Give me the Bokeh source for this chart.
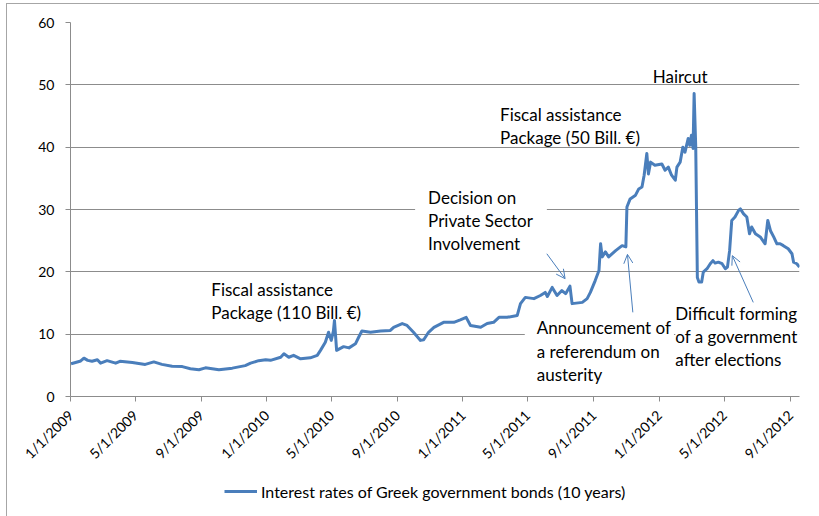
import math
import pandas as pd
from bokeh.plotting import figure
from bokeh.layouts import column
from bokeh.models import (Range1d, FixedTicker, Label, Arrow, OpenHead, Legend,
                          LegendItem, ColumnDataSource)
from bokeh.embed import file_html
from bokeh.resources import INLINE

# ---------------- data ----------------
dates = [
    "2009-01-02", "2009-01-12", "2009-01-20", "2009-01-26", "2009-02-02", "2009-02-10",
    "2009-02-20", "2009-02-26", "2009-03-10", "2009-03-26", "2009-04-03", "2009-04-26",
    "2009-05-20", "2009-06-05", "2009-06-20", "2009-07-09", "2009-07-28", "2009-08-12",
    "2009-08-28", "2009-09-09", "2009-10-04", "2009-10-29", "2009-11-22", "2009-12-02",
    "2009-12-17", "2009-12-30",
    "2010-01-08", "2010-01-27", "2010-02-02", "2010-02-11", "2010-02-20", "2010-03-05",
    "2010-03-23", "2010-04-05", "2010-04-11", "2010-04-20", "2010-04-26", "2010-05-01",
    "2010-05-05", "2010-05-07", "2010-05-11", "2010-05-24", "2010-06-03", "2010-06-15",
    "2010-06-21", "2010-06-27", "2010-07-13", "2010-08-01", "2010-08-19", "2010-08-25",
    "2010-09-10", "2010-09-19", "2010-10-01", "2010-10-14", "2010-10-20", "2010-10-29",
    "2010-11-08", "2010-11-26", "2010-12-15", "2010-12-27",
    "2011-01-07", "2011-01-15", "2011-02-03", "2011-02-15", "2011-02-27", "2011-03-09",
    "2011-03-24", "2011-04-12", "2011-04-18", "2011-04-27", "2011-05-13", "2011-05-25",
    "2011-06-03", "2011-06-07", "2011-06-16", "2011-06-25", "2011-07-04", "2011-07-11",
    "2011-07-19", "2011-07-23", "2011-08-11", "2011-08-20", "2011-08-26", "2011-09-04",
    "2011-09-11", "2011-09-14", "2011-09-17", "2011-09-23", "2011-09-29", "2011-10-12",
    "2011-10-24", "2011-10-31", "2011-11-02", "2011-11-08", "2011-11-18", "2011-11-24",
    "2011-11-30", "2011-12-04", "2011-12-09", "2011-12-12", "2011-12-16", "2011-12-24",
    "2012-01-06", "2012-01-12", "2012-01-18", "2012-01-24", "2012-01-31", "2012-02-03",
    "2012-02-09", "2012-02-14", "2012-02-18", "2012-02-24", "2012-02-27", "2012-03-01",
    "2012-03-04", "2012-03-06", "2012-03-09", "2012-03-12", "2012-03-15", "2012-03-20",
    "2012-03-23", "2012-03-30", "2012-04-05", "2012-04-10", "2012-04-14", "2012-04-20",
    "2012-04-27", "2012-05-03", "2012-05-07", "2012-05-11", "2012-05-15", "2012-05-21",
    "2012-05-28", "2012-05-31", "2012-06-06", "2012-06-12", "2012-06-17", "2012-06-21",
    "2012-06-28", "2012-07-07", "2012-07-16", "2012-07-21", "2012-07-26", "2012-08-01",
    "2012-08-07", "2012-08-13", "2012-08-19", "2012-08-28", "2012-09-04", "2012-09-07",
    "2012-09-13", "2012-09-18",
]
rates = [
    5.25, 5.5, 5.7, 6.15, 5.8, 5.65,
    5.9, 5.35, 5.75, 5.35, 5.65, 5.45,
    5.15, 5.55, 5.15, 4.85, 4.8, 4.45,
    4.3, 4.6, 4.3, 4.55, 4.95, 5.35,
    5.75, 5.9,
    5.8, 6.3, 6.85, 6.3, 6.6, 6.05,
    6.2, 6.6, 7.4, 8.7, 10.3, 9.0,
    10.5, 12.2, 7.4, 8.0, 7.8, 8.45,
    9.5, 10.5, 10.3, 10.5, 10.6, 11.1,
    11.7, 11.4, 10.3, 9.0, 9.1, 10.3,
    11.1, 11.9, 11.9, 12.3,
    12.7, 11.4, 11.1, 11.7, 11.9, 12.7,
    12.7, 13.0, 14.9, 15.9, 15.7, 16.2,
    16.7, 16.05, 17.5, 16.2, 17.0, 16.5,
    17.7, 14.9, 15.1, 15.7, 16.7, 18.6,
    20.2, 24.5, 22.4, 23.2, 22.4, 23.4,
    24.2, 24.0, 30.4, 31.7, 32.3, 33.3,
    33.6, 35.5, 39.0, 35.7, 37.6, 37.1,
    37.3, 36.3, 36.8, 35.5, 34.7, 36.8,
    37.6, 40.0, 39.2, 41.4, 40.3, 41.9,
    39.8, 48.6, 40.0, 19.1, 18.35, 18.35,
    19.95, 20.5, 21.3, 21.8, 21.4, 21.55,
    21.3, 20.5, 20.75, 23.4, 28.25, 28.8,
    29.9, 30.1, 29.3, 28.8, 26.1, 27.2,
    26.1, 25.6, 24.5, 28.25, 26.6, 25.6,
    24.5, 24.5, 24.2, 23.7, 22.9, 21.55,
    21.3, 20.75,
]
series_name = "Interest rates of Greek government bonds (10 years)"

tick_dates = ["2009-01-01", "2009-05-01", "2009-09-01", "2010-01-01", "2010-05-01",
              "2010-09-01", "2011-01-01", "2011-05-01", "2011-09-01", "2012-01-01",
              "2012-05-01", "2012-09-01"]
tick_labels = ["1/1/2009", "5/1/2009", "9/1/2009", "1/1/2010", "5/1/2010", "9/1/2010",
               "1/1/2011", "5/1/2011", "9/1/2011", "1/1/2012", "5/1/2012", "9/1/2012"]
y_ticks = [0, 10, 20, 30, 40, 50, 60]

# annotations: text, anchor date, anchor value (top-left of text box)
note_texts = ["Haircut",
              "Fiscal assistance\nPackage (50 Bill. \u20ac)",
              "Decision on\nPrivate Sector\nInvolvement",
              "Fiscal assistance\nPackage (110 Bill. \u20ac)",
              "Announcement of\na referendum on\nausterity",
              "Difficult forming\nof a government\nafter elections"]
note_dates = ["2012-02-09", "2011-03-11", "2010-10-04", "2009-09-20", "2011-04-26", "2012-01-31"]
note_values = [53.0, 46.9, 33.9, 18.8, 13.0, 15.4]

# arrows: start (date, value) -> end (date, value)
arrow_start_dates = ["2011-06-06", "2011-11-13", "2012-06-24"]
arrow_start_values = [22.9, 13.5, 15.1]
arrow_end_dates = ["2011-07-10", "2011-11-03", "2012-05-16"]
arrow_end_values = [18.9, 22.8, 22.6]

x_start, x_end = "2009-01-01", "2012-09-18"

# ---------------- figure ----------------
def ms(s):
    return pd.Timestamp(s).value / 1e6

FONT = "Lato"
BLUE = "#4A7EBB"
GRID = "#8c8c8c"

p = figure(width=812, height=472, x_axis_type="datetime",
           output_backend="svg", toolbar_location=None,
           x_range=Range1d(ms(x_start), ms(x_end)), y_range=Range1d(0, 60),
           min_border_left=63, min_border_right=20, min_border_top=18,
           min_border_bottom=80)
p.outline_line_color = None
p.background_fill_color = "white"
p.border_fill_color = "white"

src = ColumnDataSource(dict(x=pd.to_datetime(dates), y=rates))
r = p.line("x", "y", source=src, line_color=BLUE, line_width=3, line_join="round")

# axes
p.xgrid.grid_line_color = None
p.ygrid.grid_line_color = GRID
p.ygrid.grid_line_width = 1
p.yaxis.ticker = FixedTicker(ticks=y_ticks)
p.xaxis.ticker = FixedTicker(ticks=[ms(t) for t in tick_dates])
p.xaxis.major_label_overrides = {ms(t): lab for t, lab in zip(tick_dates, tick_labels)}
p.xaxis.major_label_orientation = math.pi / 4
for ax in (p.xaxis, p.yaxis):
    ax.axis_line_color = GRID
    ax.major_tick_line_color = GRID
    ax.minor_tick_line_color = None
    ax.major_tick_in = 0
    ax.major_tick_out = 5
    ax.major_label_text_font = FONT
    ax.major_label_text_font_size = "14px"
    ax.major_label_text_color = "black"
p.yaxis.major_label_standoff = 11
p.xaxis.major_label_standoff = 11

# annotations
pads = [None, None,
        dict(left=13, right=14, top=2, bottom=2),
        None,
        dict(left=12, right=3, top=2, bottom=2),
        dict(left=0, right=20, top=2, bottom=2)]
for t, d, v, pad in zip(note_texts, note_dates, note_values, pads):
    kw = {}
    if pad is not None:
        kw = dict(background_fill_color="white", padding=pad)
    align = "center" if t == "Haircut" else "left"
    p.add_layout(Label(x=ms(d), y=v, text=t, text_font=FONT, text_font_size="17px",
                       text_color="black", text_align=align, text_baseline="top",
                       text_line_height=1.1, **kw))

for sd, sv, ed, ev in zip(arrow_start_dates, arrow_start_values, arrow_end_dates, arrow_end_values):
    p.add_layout(Arrow(x_start=ms(sd), y_start=sv, x_end=ms(ed), y_end=ev,
                       line_color=BLUE, line_width=1,
                       end=OpenHead(size=9, line_color=BLUE, line_width=1)))

# legend strip (same series style, shown below the axis); its line lies outside the view
q = figure(width=812, height=40, output_backend="svg", toolbar_location=None,
           x_axis_location=None, y_axis_location=None,
           x_range=Range1d(0, 1), y_range=Range1d(0, 1),
           min_border_left=0, min_border_right=0, min_border_top=0, min_border_bottom=0)
q.outline_line_color = None
q.grid.grid_line_color = None
q.border_fill_color = "white"
rq = q.line(x=[5, 6], y=[5, 6], line_color=BLUE, line_width=3)
legend = Legend(items=[LegendItem(label=series_name, renderers=[rq])],
                location=(154, 15), orientation="horizontal",
                border_line_color=None, background_fill_alpha=0,
                glyph_width=33, label_standoff=4, padding=3, margin=0,
                label_text_font=FONT, label_text_font_size="16px",
                label_text_color="black")
q.add_layout(legend, "center")

layout = column(p, q, spacing=0)
layout.styles = {"border-left": "1px solid #a6a6a6", "border-top": "1px solid #a6a6a6",
                 "margin-left": "6px", "margin-top": "3px"}

open("out.html", "w").write(file_html(layout, INLINE))
